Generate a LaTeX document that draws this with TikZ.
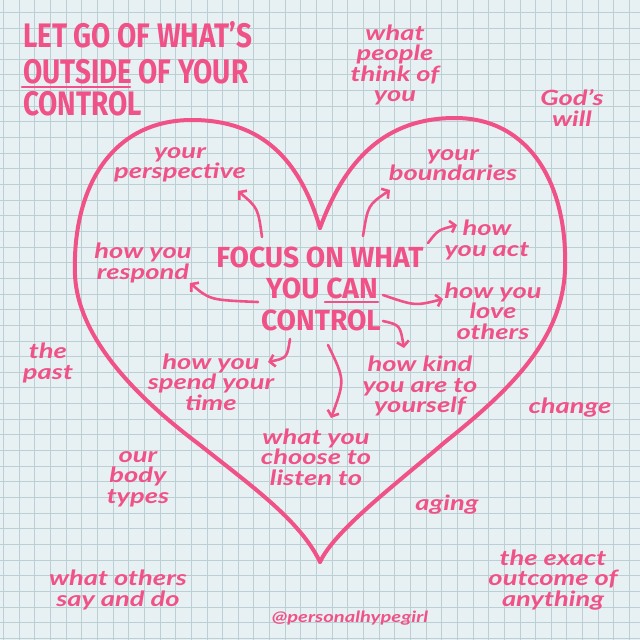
\documentclass[tikz,border=0pt]{standalone}
\usepackage{fontspec}
\usetikzlibrary{arrows.meta}
\newfontfamily\capfont{Fira Sans}[FakeStretch=0.82]
\newfontfamily\midfont{Fira Sans}[FakeStretch=0.97]
\newfontfamily\handfont{Lato}[FakeStretch=1.3]
\definecolor{pk}{RGB}{240,82,135}
\definecolor{paper}{RGB}{231,240,242}
\definecolor{gridc}{RGB}{188,207,212}
\tikzset{
 titletext/.style={text=pk, font=\capfont\bfseries\fontsize{34}{34}\selectfont, inner sep=0pt, anchor=base west},
 focustext/.style={text=pk, font=\midfont\bfseries\fontsize{29}{29}\selectfont, inner sep=0pt, anchor=base},
 lbl/.style={text=pk, font=\handfont\bfseries\itshape\fontsize{21}{20.5}\selectfont, inner sep=0pt, align=center},
 heartline/.style={draw=pk, line width=4pt, line cap=round, line join=round},
 ulinestyle/.style={draw=pk, line width=2.6pt, line cap=round},
 arr/.style={draw=pk, line width=2.6pt, line cap=round, -{Straight Barb[length=5pt,width=12pt]}},
}
\begin{document}
\begin{tikzpicture}[x=1pt,y=-1pt]
\useasboundingbox (0,0) rectangle (640,640);
\fill[paper] (0,0) rectangle (640,640);
\foreach \k in {0,...,40} {
  \draw[gridc, line width=0.9pt] ({3.5+15.65*\k},0) -- ({3.5+15.65*\k},640);
  \draw[gridc, line width=0.9pt] (0,{12.3+15.65*\k}) -- (640,{12.3+15.65*\k});
}
% heart
\draw[heartline] (320,228) .. controls (300,160) and (262,120) .. (192,120)
  .. controls (110,120) and (72,190) .. (75,275)
  .. controls (78,340) and (140,400) .. (200,445)
  .. controls (250,485) and (300,520) .. (320,562);
\draw[heartline] (320,228) .. controls (345,160) and (385,118) .. (455,118)
  .. controls (530,118) and (568,185) .. (565,270)
  .. controls (562,340) and (510,390) .. (445,442)
  .. controls (395,485) and (335,530) .. (320,562);
% title
\node[titletext] (t1) at (23,47) {LET GO OF WHAT’S};
\node[titletext] (t2) at (23,83) {OUTSIDE OF YOUR};
\node[titletext] (t3) at (23,115) {CONTROL};
\draw[ulinestyle] (22,87) -- (130,87);
% centre
\node[focustext] (c1) at (320,267) {FOCUS ON WHAT};
\node[focustext] (c2) at (322,298) {YOU CAN};
\node[focustext] (c3) at (321,330) {CONTROL};
\draw[ulinestyle] (325,302) -- (378,302);
% labels inside
\node[lbl] (persp) at (180,165) {your\\perspective};
\node[lbl] (resp) at (143,263) {how you\\respond};
\node[lbl] (bound) at (453,165) {your\\boundaries};
\node[lbl] (act) at (487,240) {how\\you act};
\node[lbl] (love) at (493,311) {how you\\love\\others};
\node[lbl] (kind) at (420,386) {how kind\\you are to\\yourself};
\node[lbl] (spend) at (211,382) {how you\\spend your\\time};
\node[lbl] (listen) at (316,457) {what you\\choose to\\listen to};
% labels outside
\node[lbl] (people) at (395,65) {what\\people\\think of\\you};
\node[lbl] (gods) at (572,108) {God’s\\will};
\node[lbl] (past) at (48,363) {the\\past};
\node[lbl] (body) at (138,479) {our\\body\\types};
\node[lbl] (change) at (570,408) {change};
\node[lbl] (aging) at (447,505) {aging};
\node[lbl] (exact) at (553,580) {the exact\\outcome of\\anything};
\node[lbl] (others) at (118,590) {what others\\say and do};
\node[lbl, font=\handfont\bfseries\itshape\fontsize{15.5}{15.5}\selectfont] (handle) at (350,618) {@personalhypegirl};
% arrows
\coordinate (a1s) at (262,237); \coordinate (a1e) at (238,191);
\coordinate (a2s) at (258,302); \coordinate (a2e) at (190,283);
\coordinate (a3s) at (363,236); \coordinate (a3e) at (390,190);
\coordinate (a4s) at (428,243); \coordinate (a4e) at (457,225);
\coordinate (a5s) at (383,295); \coordinate (a5e) at (443,299);
\coordinate (a6s) at (383,321); \coordinate (a6e) at (404,348);
\coordinate (a7s) at (290,339); \coordinate (a7e) at (268,362);
\coordinate (a8s) at (328,345); \coordinate (a8e) at (331,418);
\draw[arr] (a1s) .. controls (258,208) .. (a1e);
\draw[arr] (a2s) .. controls (210,300) .. (a2e);
\draw[arr] (a3s) .. controls (368,205) .. (a3e);
\draw[arr] (a4s) .. controls (438,230) .. (a4e);
\draw[arr] (a5s) .. controls (415,306) .. (a5e);
\draw[arr] (a6s) .. controls (400,325) .. (a6e);
\draw[arr] (a7s) .. controls (287,358) .. (a7e);
\draw[arr] (a8s) .. controls (345,380) .. (a8e);
\end{tikzpicture}
\end{document}
